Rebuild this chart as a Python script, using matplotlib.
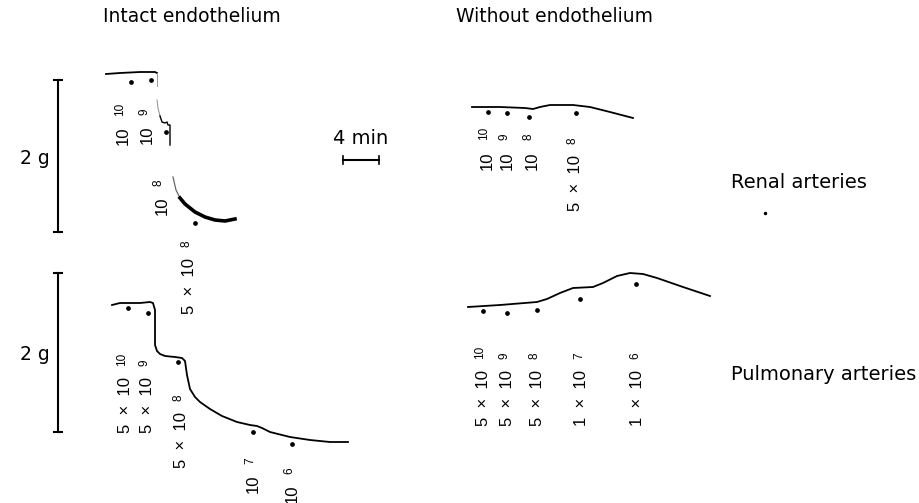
import matplotlib
matplotlib.use("Agg")
import matplotlib.pyplot as plt

plt.rcParams['font.family'] = ['DejaVu Sans']

# ---- data (figure-pixel coordinates of recorded traces) ----
renal_intact_x1 = [106, 120, 140, 150, 155, 157]
renal_intact_y1 = [74, 73, 72, 72, 72, 73]
renal_intact_x_faint = [157, 157, 157]
renal_intact_y_faint = [73, 80, 86]
renal_intact_x2 = [157, 158, 160, 162, 165, 167, 168, 170, 170]
renal_intact_y2 = [100, 108, 116, 122, 123, 122, 125, 125, 145]
renal_intact_x3 = [173, 176, 180, 185, 190, 195, 205, 215, 225, 235]
renal_intact_y3 = [177, 190, 198, 204, 208, 212, 217, 220, 221, 219]
renal_intact_dots_x = [131, 151, 166, 195]
renal_intact_dots_y = [82, 80, 132, 223]

pulm_intact_x = [112, 120, 140, 150, 153, 155, 155, 157, 160, 165, 175, 182, 185, 187, 190, 195, 200,
                 210, 222, 237, 250, 257, 262, 270, 290, 310, 330, 348]
pulm_intact_y = [305, 303, 303, 302, 303, 310, 345, 351, 354, 356, 357, 358, 361, 375, 389, 397, 402,
                 409, 416, 422, 425, 426, 428, 432, 437, 440, 442, 442]
pulm_intact_dots_x = [128, 148, 178, 253, 292]
pulm_intact_dots_y = [308, 313, 362, 432, 444]

renal_wo_x = [472, 500, 525, 533, 540, 550, 573, 590, 610, 633]
renal_wo_y = [107, 107, 108, 109, 107, 105, 105, 107, 112, 118]
renal_wo_dots_x = [488, 507, 529, 576]
renal_wo_dots_y = [112, 113, 117, 113]

pulm_wo_x = [468, 500, 537, 547, 560, 573, 593, 603, 617, 630, 643, 657, 683, 710]
pulm_wo_y = [307, 305, 302, 299, 293, 288, 287, 283, 276, 273, 274, 278, 287, 296]
pulm_wo_dots_x = [483, 507, 537, 580, 636]
pulm_wo_dots_y = [311, 313, 310, 299, 284]

# dose labels: (x, y_bottom, mantissa, exponent)
renal_intact_labels = [(123, 145, '10', '10'), (147, 144, '10', '9'),
                       (162, 215, '10', '8'), (189, 314, '5  \u00d7  10', '8')]
pulm_intact_labels = [(125, 433, '5  \u00d7  10', '10'), (148, 433, '5  \u00d7  10', '9'),
                      (182, 468, '5  \u00d7  10', '8'), (253, 493, '10', '7'),
                      (292, 503, '10', '6')]
renal_wo_labels = [(487, 170, '10', '10'), (507, 170, '10', '9'),
                   (532, 170, '10', '8'), (575, 211, '5  \u00d7  10', '8')]
pulm_wo_labels = [(483, 426, '5  \u00d7  10', '10'), (507, 426, '5  \u00d7  10', '9'),
                  (537, 426, '5  \u00d7  10', '8'), (582, 426, '1  \u00d7  10', '7'),
                  (638, 426, '1  \u00d7  10', '6')]

titles = [("Intact endothelium", 103, 22), ("Without endothelium", 456, 22)]
row_labels = [("Renal arteries", 731, 182), ("Pulmonary arteries", 731, 375)]

# ---- figure ----
fig = plt.figure(figsize=(9.19, 5.03), dpi=100)
ax = fig.add_axes([0, 0, 1, 1])
ax.set_xlim(0, 919)
ax.set_ylim(503, 0)
ax.axis('off')

lw = 1.3
ax.plot(renal_intact_x1, renal_intact_y1, color='black', lw=lw)
ax.plot(renal_intact_x_faint, renal_intact_y_faint, color='0.6', lw=0.7)
ax.plot(renal_intact_x2[:3], renal_intact_y2[:3], color='0.55', lw=0.7)
ax.plot(renal_intact_x2[2:], renal_intact_y2[2:], color='black', lw=1.0)
ax.plot(renal_intact_x3[:3], renal_intact_y3[:3], color='0.4', lw=0.9)
ax.plot(renal_intact_x3[2:], renal_intact_y3[2:], color='black', lw=2.6)
ax.plot(pulm_intact_x, pulm_intact_y, color='black', lw=lw)
ax.plot(renal_wo_x, renal_wo_y, color='black', lw=lw)
ax.plot(pulm_wo_x, pulm_wo_y, color='black', lw=lw)

for dx, dy in [(renal_intact_dots_x, renal_intact_dots_y), (pulm_intact_dots_x, pulm_intact_dots_y),
               (renal_wo_dots_x, renal_wo_dots_y), (pulm_wo_dots_x, pulm_wo_dots_y)]:
    ax.plot(dx, dy, 'o', color='black', ms=2.4, ls='none')

lab_font = ['Liberation Sans', 'DejaVu Sans']
mantissas = []
for labels in [renal_intact_labels, pulm_intact_labels, renal_wo_labels, pulm_wo_labels]:
    for x, y, m, e in labels:
        t = ax.text(x, y, m, rotation=90, ha='center', va='bottom', fontsize=12,
                    family=lab_font, color='black')
        mantissas.append((t, x, e))

fig.canvas.draw()
renderer = fig.canvas.get_renderer()
inv = ax.transData.inverted()
gap = 11
for t, x, e in mantissas:
    bb = t.get_window_extent(renderer)
    _, ytop = inv.transform((bb.x0, bb.y1))
    ax.text(x - 3, ytop - gap, e, rotation=90, ha='center', va='bottom', fontsize=8.5,
            family=lab_font, color='black')

for t, x, y in titles:
    ax.text(x, y, t, ha='left', va='baseline', fontsize=13.5)
for t, x, y in row_labels:
    ax.text(x, y, t, ha='left', va='center', fontsize=14)

# scale bars
for y0, y1, ty in [(80, 232, 158), (273, 432, 355)]:
    ax.plot([58, 58], [y0, y1], color='black', lw=1.5)
    ax.plot([54, 62], [y0, y0], color='black', lw=1.5)
    ax.plot([54, 62], [y1, y1], color='black', lw=1.5)
    ax.text(20, ty, "2 g", ha='left', va='center', fontsize=13.5)

ax.plot([343, 379], [160, 160], color='black', lw=1.5)
ax.plot([343, 343], [156, 164], color='black', lw=1.2)
ax.plot([379, 379], [156, 164], color='black', lw=1.2)
ax.text(361, 138, "4 min", ha='center', va='center', fontsize=14)
ax.plot([765], [213], 'o', color='black', ms=1.5)

fig.savefig("out.png", dpi=100)
